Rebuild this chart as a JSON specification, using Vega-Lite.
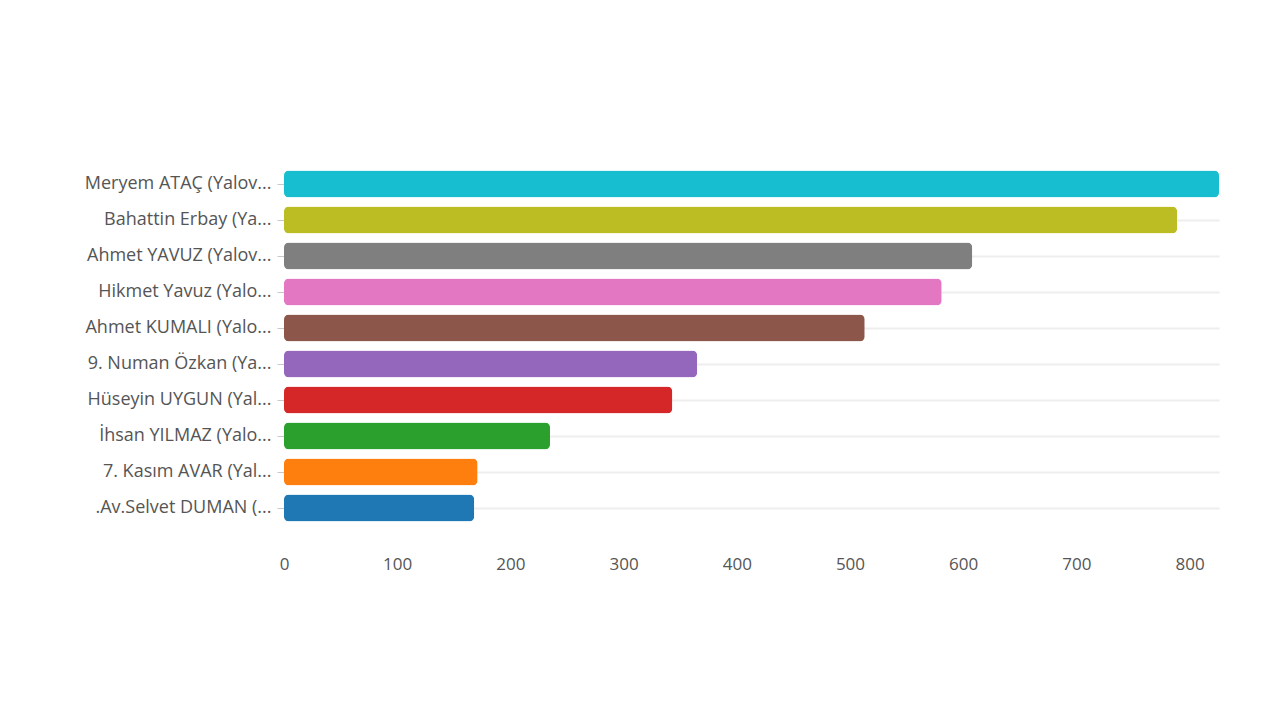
{
  "$schema": "https://vega.github.io/schema/vega-lite/v6.json",
  "autosize": {"type": "none"},
  "padding": {"left": 284, "top": 166, "right": 61, "bottom": 194},
  "width": 935,
  "height": 360,
  "background": "white",
  "config": {
    "view": {"stroke": null},
    "font": "Open Sans"
  },
  "data": {
    "values": [
      {"aday": "Meryem ATAÇ (Yalov...", "oy": 826},
      {"aday": "Bahattin Erbay (Ya...", "oy": 789},
      {"aday": "Ahmet YAVUZ (Yalov...", "oy": 608},
      {"aday": "Hikmet Yavuz (Yalo...", "oy": 581},
      {"aday": "Ahmet KUMALI (Yalo...", "oy": 513},
      {"aday": "9. Numan Özkan (Ya...", "oy": 365},
      {"aday": "Hüseyin UYGUN (Yal...", "oy": 343},
      {"aday": "İhsan YILMAZ (Yalo...", "oy": 235},
      {"aday": "7. Kasım AVAR (Yal...", "oy": 171},
      {"aday": ".Av.Selvet DUMAN (...", "oy": 168}
    ]
  },
  "mark": {"type": "bar", "cornerRadius": 5},
  "encoding": {
    "y": {
      "field": "aday",
      "type": "nominal",
      "sort": null,
      "scale": {"paddingInner": 0.25, "paddingOuter": 0.125},
      "axis": {
        "title": null,
        "domain": false,
        "ticks": true,
        "tickSize": 7,
        "tickColor": "#c8c8c8",
        "labelPadding": 6,
        "labelFontSize": 18,
        "labelColor": "#555",
        "labelLimit": 300,
        "grid": true,
        "gridColor": "#eeeeee",
        "gridWidth": 2
      }
    },
    "x": {
      "field": "oy",
      "type": "quantitative",
      "scale": {"domain": [0, 826], "nice": false},
      "axis": {
        "title": null,
        "values": [0, 100, 200, 300, 400, 500, 600, 700, 800],
        "grid": false,
        "domain": false,
        "ticks": false,
        "labelFlush": false,
        "labelPadding": 30,
        "labelFontSize": 17,
        "labelColor": "#555"
      }
    },
    "color": {
      "field": "aday",
      "type": "nominal",
      "legend": null,
      "scale": {
        "domain": ["Meryem ATAÇ (Yalov...", "Bahattin Erbay (Ya...", "Ahmet YAVUZ (Yalov...", "Hikmet Yavuz (Yalo...", "Ahmet KUMALI (Yalo...", "9. Numan Özkan (Ya...", "Hüseyin UYGUN (Yal...", "İhsan YILMAZ (Yalo...", "7. Kasım AVAR (Yal...", ".Av.Selvet DUMAN (..."],
        "range": ["#17becf", "#bcbd22", "#7f7f7f", "#e377c2", "#8c564b", "#9467bd", "#d62728", "#2ca02c", "#ff7f0e", "#1f77b4"]
      }
    }
  }
}
